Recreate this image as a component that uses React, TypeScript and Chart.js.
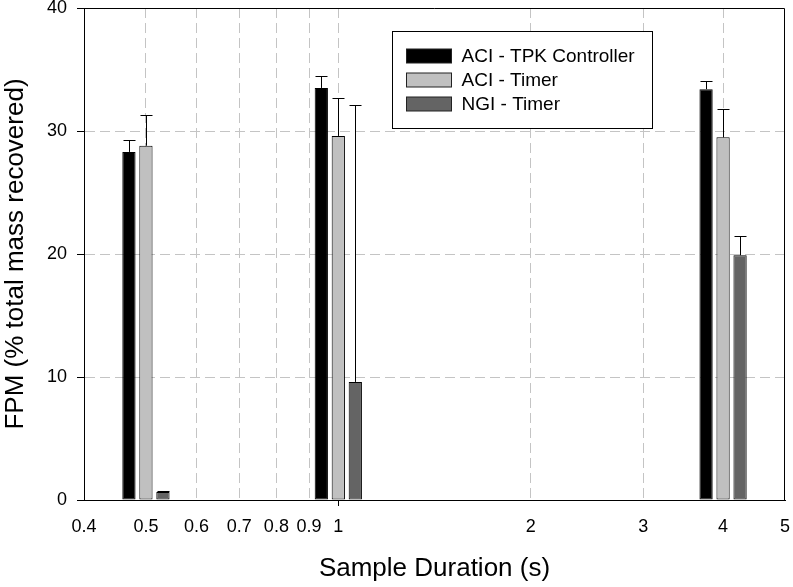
import React, { useEffect, useRef } from 'react';
import { Chart, registerables } from 'chart.js';

Chart.register(...registerables);

// ---- data ----
const durations = [0.5, 1, 4];
const seriesNames = ['ACI - TPK Controller', 'ACI - Timer', 'NGI - Timer'];
const aciTpk = [28.3, 33.5, 33.4];
const aciTpkErr = [1.0, 1.0, 0.7];
const aciTimer = [28.8, 29.6, 29.5];
const aciTimerErr = [2.5, 3.1, 2.3];
const ngiTimer = [0.65, 9.6, 19.9];
const ngiTimerErr = [0.12, 22.5, 1.6];
const xTicks = [0.4, 0.5, 0.6, 0.7, 0.8, 0.9, 1, 2, 3, 4, 5];
const yTicks = [0, 10, 20, 30, 40];
const seriesColors = ['#000000', '#c0c0c0', '#646464'];

const seriesValues = [aciTpk, aciTimer, ngiTimer];
const seriesErrors = [aciTpkErr, aciTimerErr, ngiTimerErr];

const FONT = "'Liberation Sans', Arial, Helvetica, sans-serif";
const GROUP_PX = 51;
const GRID = '#c4c4c4';

function groupPercentage(ctx: any) {
  const s = ctx.chart && ctx.chart.scales ? ctx.chart.scales.x : null;
  if (!s || !s.ticks || s.ticks.length < 2 || !s.width) return 1.744;
  let min = s.width;
  const scan = (vals: number[]) => {
    let prev: number | undefined;
    for (const v of vals) {
      const p = s.getPixelForValue(v);
      if (prev !== undefined) {
        const d = Math.abs(p - prev);
        if (d) min = Math.min(min, d);
      }
      prev = p;
    }
  };
  scan(durations);
  scan(s.ticks.map((t: any) => t.value));
  return GROUP_PX / min;
}

const errorBarPlugin = {
  id: 'errorBars',
  afterDatasetsDraw(chart: any) {
    const ctx = chart.ctx;
    const y = chart.scales.y;
    ctx.save();
    ctx.strokeStyle = '#000';
    ctx.lineWidth = 1;
    seriesErrors.forEach((errs, di) => {
      const meta = chart.getDatasetMeta(di);
      meta.data.forEach((bar: any, j: number) => {
        const top = y.getPixelForValue(seriesValues[di][j] + errs[j]);
        const x = Math.round(bar.x) + 0.5;
        const yb = bar.y;
        const yt = Math.round(top) + 0.5;
        ctx.beginPath();
        ctx.moveTo(x, yb);
        ctx.lineTo(x, yt);
        ctx.moveTo(x - 6, yt);
        ctx.lineTo(x + 6, yt);
        ctx.stroke();
      });
    });
    ctx.restore();
  },
};

const frameLegendPlugin = {
  id: 'frameLegend',
  afterDraw(chart: any) {
    const ctx = chart.ctx;
    const ca = chart.chartArea;
    ctx.save();
    // frame top and right
    ctx.strokeStyle = '#000';
    ctx.lineWidth = 1;
    ctx.beginPath();
    const t = Math.round(ca.top) + 0.5;
    const r = Math.round(ca.right) - 0.5;
    ctx.moveTo(Math.round(ca.left), t);
    ctx.lineTo(r, t);
    ctx.lineTo(r, Math.round(ca.bottom));
    ctx.stroke();

    // legend box
    const bx = Math.round(ca.left + 308) + 0.5;
    const by = Math.round(ca.top + 23) + 0.5;
    const bw = 260;
    const bh = 97;
    ctx.fillStyle = '#fff';
    ctx.fillRect(bx, by, bw, bh);
    ctx.strokeStyle = '#000';
    ctx.lineWidth = 1;
    ctx.strokeRect(bx, by, bw, bh);

    ctx.font = `19px ${FONT}`;
    ctx.textBaseline = 'middle';
    ctx.textAlign = 'left';
    seriesNames.forEach((name, i) => {
      const sy = by + 17.5 + i * 24.2;
      ctx.fillStyle = seriesColors[i];
      ctx.fillRect(bx + 14, Math.round(sy), 45, 14);
      ctx.strokeStyle = '#222';
      ctx.strokeRect(bx + 14, Math.round(sy), 45, 14);
      ctx.fillStyle = '#000';
      ctx.fillText(name, bx + 69, Math.round(sy) + 7.5);
    });
    ctx.restore();
  },
};

export default function App() {
  const canvasRef = useRef<HTMLCanvasElement | null>(null);

  useEffect(() => {
    document.body.style.margin = '0';
    const canvas = canvasRef.current;
    if (!canvas) return;
    const datasets = seriesNames.map((name, i) => ({
      label: name,
      data: durations.map((d, j) => ({ x: d, y: seriesValues[i][j] })),
      backgroundColor: seriesColors[i],
      borderColor: '#000',
      borderWidth: 1,
      borderSkipped: false,
      categoryPercentage: groupPercentage,
      barPercentage: 0.78,
    }));

    const chart = new Chart(canvas, {
      type: 'bar',
      data: { datasets } as any,
      options: {
        responsive: false,
        animation: false,
        devicePixelRatio: 1,
        layout: { padding: { left: 0, top: 8, right: 8, bottom: 0 } },
        font: { family: FONT },
        plugins: {
          legend: { display: false },
          tooltip: { enabled: false },
        },
        scales: {
          x: {
            type: 'logarithmic',
            min: 0.4,
            max: 5,
            offset: false,
            afterBuildTicks: (scale: any) => {
              scale.ticks = xTicks.map((v) => ({ value: v }));
            },
            afterFit: (scale: any) => {
              scale.height = 87;
              scale.paddingLeft = 0;
              scale.paddingRight = 0;
            },
            ticks: {
              autoSkip: false,
              maxRotation: 0,
              minRotation: 0,
              padding: 10,
              color: '#000',
              font: { family: FONT, size: 18 },
              callback: (v: any) => String(v),
            },
            grid: {
              offset: false,
              color: (c: any) =>
                c.tick && (c.tick.value === 0.4 || c.tick.value === 5) ? 'rgba(0,0,0,0)' : GRID,
              lineWidth: 1,
              drawTicks: true,
              tickLength: 6,
              tickColor: (c: any) => (c.tick && c.tick.value === 1 ? '#000' : 'rgba(0,0,0,0)'),
              tickBorderDash: [],
            },
            border: { display: true, color: '#000', width: 1, dash: [10, 5] },
            title: {
              display: true,
              text: 'Sample Duration (s)',
              color: '#000',
              font: { family: FONT, size: 26 },
              padding: { top: 0, bottom: 3 },
            },
          },
          y: {
            type: 'linear',
            min: 0,
            max: 40,
            afterBuildTicks: (scale: any) => {
              scale.ticks = yTicks.map((v) => ({ value: v }));
            },
            afterFit: (scale: any) => {
              scale.width = 84;
              scale.paddingTop = 0;
              scale.paddingBottom = 0;
            },
            ticks: {
              padding: 10,
              color: '#000',
              font: { family: FONT, size: 18 },
              callback: (v: any) => String(v),
            },
            grid: {
              color: (c: any) =>
                c.tick && (c.tick.value === 0 || c.tick.value === 40) ? 'rgba(0,0,0,0)' : GRID,
              lineWidth: 1,
              drawTicks: true,
              tickLength: 7,
              tickColor: '#000',
              tickBorderDash: [],
            },
            border: { display: true, color: '#000', width: 1, dash: [10, 5] },
            title: {
              display: true,
              text: 'FPM (% total mass recovered)',
              color: '#000',
              font: { family: FONT, size: 26 },
              padding: { top: 0, bottom: 0 },
            },
          },
        },
      } as any,
      plugins: [errorBarPlugin, frameLegendPlugin],
    });
    return () => chart.destroy();
  }, []);

  return (
    <div style={{ position: 'fixed', left: 0, top: 0, width: 793, height: 587, background: '#fff' }}>
      <canvas ref={canvasRef} width={793} height={587} style={{ width: 793, height: 587, display: 'block' }} />
    </div>
  );
}
